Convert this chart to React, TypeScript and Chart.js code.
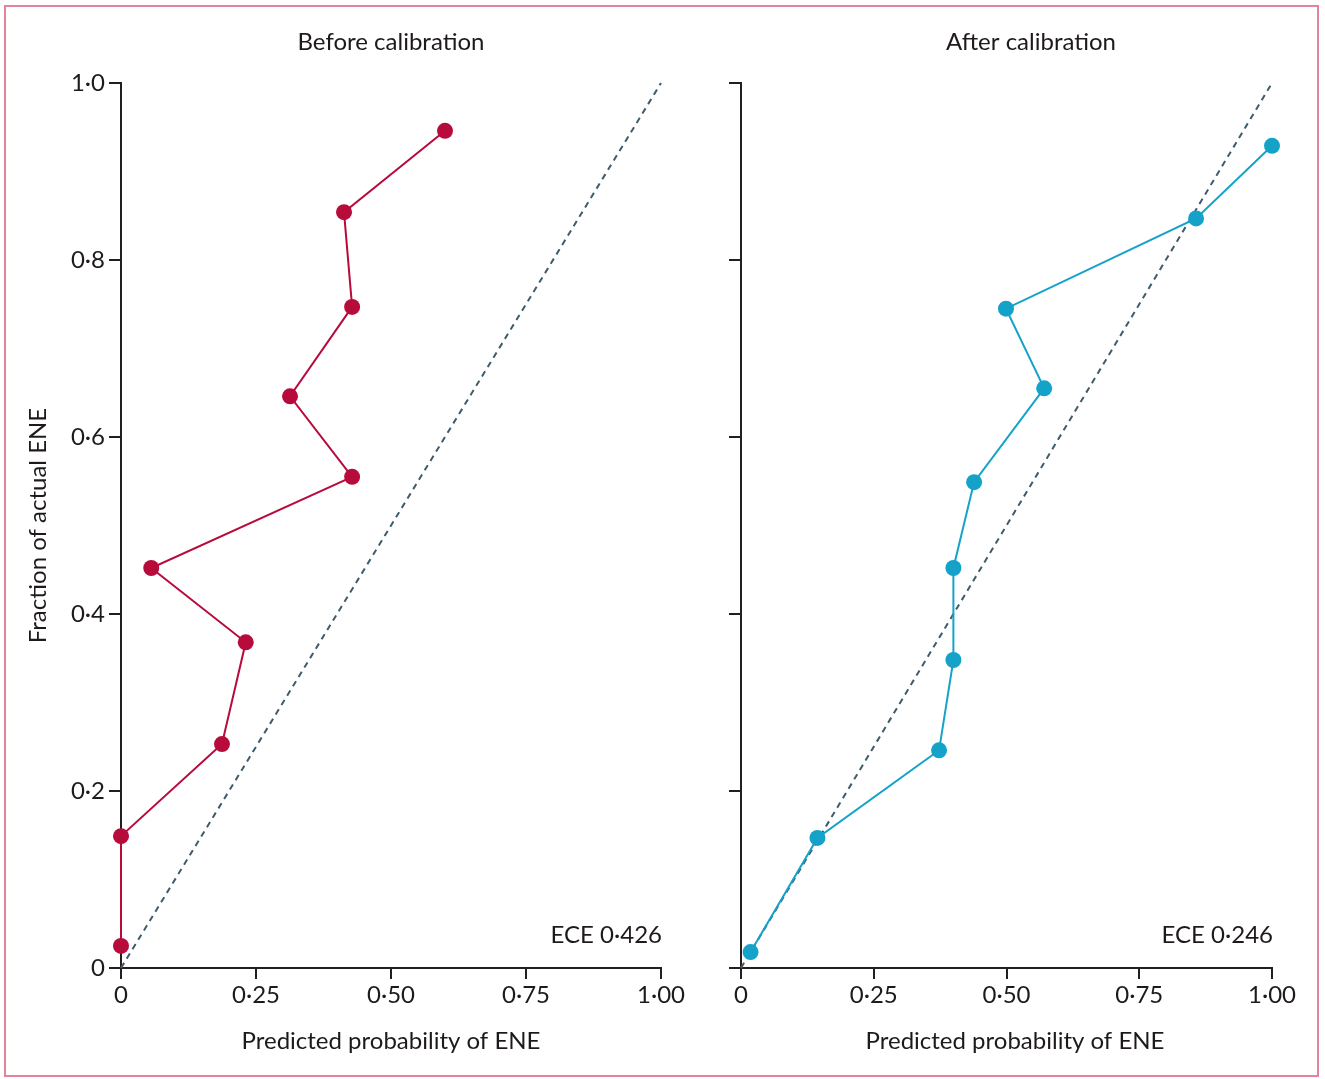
import React, { useEffect, useRef } from 'react';
import { Chart, registerables } from 'chart.js';

Chart.register(...registerables);

// ---- Data ----
const xTickValues = [0, 0.25, 0.5, 0.75, 1];
const xTickLabels = ['0', '0·25', '0·50', '0·75', '1·00'];
const yTickValues = [0, 0.2, 0.4, 0.6, 0.8, 1];
const yTickLabels = ['0', '0·2', '0·4', '0·6', '0·8', '1·0'];

const beforePredicted = [0, 0, 0.187, 0.231, 0.056, 0.428, 0.313, 0.428, 0.413, 0.6];
const beforeObserved = [0.025, 0.149, 0.253, 0.368, 0.452, 0.555, 0.646, 0.747, 0.854, 0.946];

const afterPredicted = [0.018, 0.144, 0.373, 0.4, 0.4, 0.439, 0.571, 0.499, 0.857, 1.0];
const afterObserved = [0.018, 0.147, 0.246, 0.348, 0.452, 0.549, 0.655, 0.745, 0.847, 0.929];

const diagonalX = [0, 1];
const diagonalY = [0, 1];

const panelTitles = ['Before calibration', 'After calibration'];
const eceLabels = ['ECE 0·426', 'ECE 0·246'];
const xAxisTitle = 'Predicted probability of ENE';
const yAxisTitle = 'Fraction of actual ENE';

// ---- Styles ----
const FONT = 'Lato, "Liberation Sans", sans-serif';
const TEXT = '#1e1a1b';
const AXIS = '#231f20';
const RED = '#b70b3c';
const BLUE = '#14a2c9';
const DIAG = '#3d5b6b';

const panelTextPlugin = {
  id: 'panelText',
  afterDraw(chart: any, _args: any, opts: any) {
    const { ctx, chartArea } = chart;
    ctx.save();
    ctx.fillStyle = TEXT;
    ctx.font = `24px ${FONT}`;
    ctx.textAlign = 'center';
    ctx.textBaseline = 'middle';
    ctx.fillText(opts.title, opts.titleX, opts.titleY);
    ctx.fillText(xAxisTitle, opts.xTitleX, opts.xTitleY);
    ctx.textAlign = 'right';
    ctx.fillText(opts.ece, chartArea.right + 1, opts.eceY);
    ctx.restore();
  },
};

type PanelProps = {
  predicted: number[];
  observed: number[];
  color: string;
  title: string;
  ece: string;
  showYLabels: boolean;
  yWidth: number;
  rightPad: number;
  titleX: number;
  xTitleX: number;
  left: number;
  width: number;
};

function Panel(p: PanelProps) {
  const ref = useRef<HTMLCanvasElement | null>(null);
  useEffect(() => {
    if (!ref.current) return;
    const chart = new Chart(ref.current, {
      type: 'scatter',
      data: {
        datasets: [
          {
            data: p.predicted.map((x, i) => ({ x, y: p.observed[i] })),
            showLine: true,
            borderColor: p.color,
            backgroundColor: p.color,
            borderWidth: 2,
            pointRadius: 8,
            pointHoverRadius: 8,
            pointBorderWidth: 0,
            pointBackgroundColor: p.color,
            clip: false,
            tension: 0,
          } as any,
          {
            data: diagonalX.map((x, i) => ({ x, y: diagonalY[i] })),
            showLine: true,
            borderColor: DIAG,
            borderDash: [6, 5],
            borderWidth: 2,
            pointRadius: 0,
            pointHoverRadius: 0,
            clip: false,
          } as any,
        ],
      },
      options: {
        animation: false,
        responsive: false,
        events: [],
        layout: { padding: { top: 83, right: p.rightPad, left: 0, bottom: 0 } },
        plugins: {
          legend: { display: false },
          tooltip: { enabled: false },
          panelText: {
            title: p.title,
            ece: p.ece,
            titleX: p.titleX,
            titleY: 42,
            eceY: 935,
            xTitleX: p.xTitleX,
            xTitleY: 1041,
          },
        } as any,
        scales: {
          x: {
            type: 'linear',
            min: 0,
            max: 1,
            afterBuildTicks: (s: any) => {
              s.ticks = xTickValues.map((v) => ({ value: v }));
            },
            afterFit: (s: any) => {
              s.height = 111;
            },
            border: { display: true, color: AXIS, width: 2 },
            grid: {
              display: true,
              drawOnChartArea: false,
              drawTicks: true,
              tickLength: 11,
              tickColor: AXIS,
              tickWidth: 2,
              color: AXIS,
              lineWidth: 2,
            },
            ticks: {
              callback: (_v: any, i: number) => xTickLabels[i],
              font: { family: FONT, size: 24 },
              color: TEXT,
              padding: 2,
              maxRotation: 0,
              autoSkip: false,
            },
            title: { display: false },
          },
          y: {
            type: 'linear',
            min: 0,
            max: 1,
            afterBuildTicks: (s: any) => {
              s.ticks = yTickValues.map((v) => ({ value: v }));
            },
            afterFit: (s: any) => {
              s.width = p.yWidth;
            },
            border: { display: true, color: AXIS, width: 2 },
            grid: {
              display: true,
              drawOnChartArea: false,
              drawTicks: true,
              tickLength: 12,
              tickColor: AXIS,
              tickWidth: 2,
              color: AXIS,
              lineWidth: 2,
            },
            ticks: {
              callback: (_v: any, i: number) => (p.showYLabels ? yTickLabels[i] : ''),
              font: { family: FONT, size: 24 },
              color: TEXT,
              padding: 4,
              autoSkip: false,
            },
            title: {
              display: p.showYLabels,
              text: yAxisTitle,
              font: { family: FONT, size: 24 },
              color: TEXT,
              padding: { top: 24, bottom: 0 },
            },
          },
        },
      },
      plugins: [panelTextPlugin],
    } as any);
    return () => chart.destroy();
  }, []);
  return (
    <canvas
      ref={ref}
      width={p.width}
      height={1079}
      style={{ position: 'absolute', left: p.left, top: 0, width: p.width, height: 1079 }}
    />
  );
}

export default function App() {
  return (
    <div
      style={{
        position: 'fixed',
        left: 0,
        top: 0,
        width: 1325,
        height: 1079,
        background: '#ffffff',
        overflow: 'hidden',
      }}
    >
      <div
        style={{
          position: 'absolute',
          left: 4,
          top: 5,
          width: 1315,
          height: 1072,
          border: '2px solid #e4849c',
          boxSizing: 'border-box',
        }}
      />
      <Panel
        predicted={beforePredicted}
        observed={beforeObserved}
        color={RED}
        title={panelTitles[0]}
        ece={eceLabels[0]}
        showYLabels={true}
        yWidth={121}
        rightPad={39}
        titleX={391}
        xTitleX={391}
        left={0}
        width={700}
      />
      <Panel
        predicted={afterPredicted}
        observed={afterObserved}
        color={BLUE}
        title={panelTitles[1]}
        ece={eceLabels[1]}
        showYLabels={false}
        yWidth={61}
        rightPad={53}
        titleX={351}
        xTitleX={335}
        left={680}
        width={645}
      />
    </div>
  );
}
